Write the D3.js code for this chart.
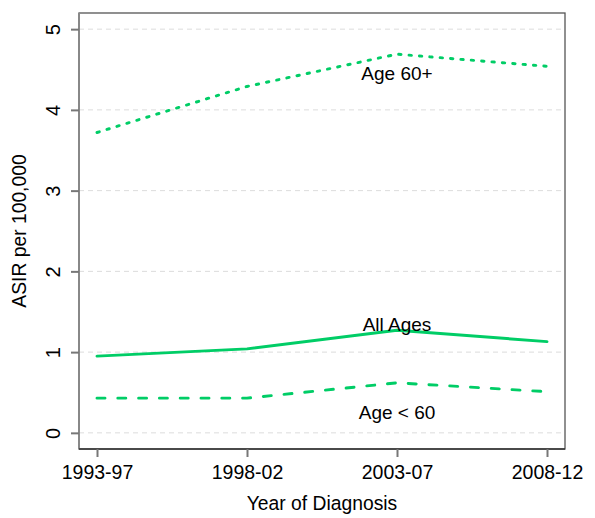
<!DOCTYPE html>
<html><head><meta charset="utf-8">
<script src="https://cdn.jsdelivr.net/npm/d3@7"></script>
<style>body{margin:0;background:#fff}svg{display:block;font-family:Arial,"Liberation Sans",sans-serif}</style>
</head><body><svg id="c" width="595" height="518"></svg>
<script>
const periods = ["1993-97","1998-02","2003-07","2008-12"];
const allAges = [0.95, 1.04, 1.27, 1.13];
const under60 = [0.43, 0.43, 0.62, 0.51];
const over60 = [3.72, 4.29, 4.69, 4.54];
const yTicks = [0,1,2,3,4,5];
const seriesNames = ["All Ages","Age < 60","Age 60+"];
const labelValues = [1.35, 0.26, 4.45];

const svg = d3.select("#c");
const L=79, R=565, T=13, B=449;
const x = d3.scaleLinear().domain([0.88,4.12]).range([L,R]);
const y = d3.scaleLinear().domain([-0.2,5.2]).range([B,T]);
const green = "#00CD66";

// grid
svg.append("g").selectAll("line").data(yTicks).join("line")
  .attr("x1",L).attr("x2",R).attr("y1",d=>y(d)).attr("y2",d=>y(d))
  .attr("stroke","#dcdcdc").attr("stroke-width",1).attr("stroke-dasharray","5,4");

const line = d3.line().x((d,i)=>x(i+1)).y(d=>y(d));
const series = [
  {v: allAges, dash: null},
  {v: under60, dash: "8,12.8"},
  {v: over60, dash: "2.4,8"}
];
series.forEach(s=>{
  const p = svg.append("path").datum(s.v).attr("d",line).attr("fill","none")
    .attr("stroke",green).attr("stroke-width",2.9).attr("stroke-linecap","round").attr("stroke-linejoin","round");
  if(s.dash) p.attr("stroke-dasharray",s.dash);
});

// labels
svg.append("g").selectAll("text").data(seriesNames).join("text")
  .attr("x",x(3)).attr("y",(d,i)=>y(labelValues[i])).attr("dy","0.35em")
  .attr("text-anchor","middle").attr("font-size",19).attr("fill","#000").text(d=>d);

// box
svg.append("rect").attr("x",L).attr("y",T).attr("width",R-L).attr("height",B-T)
  .attr("fill","none").attr("stroke","#555").attr("stroke-width",1.3);
svg.append("line").attr("x1",L).attr("x2",L).attr("y1",T).attr("y2",B).attr("stroke","#888").attr("stroke-width",2);
svg.append("line").attr("x1",L).attr("x2",R).attr("y1",B).attr("y2",B).attr("stroke","#333").attr("stroke-width",1.5);

// y axis
const yAx = svg.append("g").attr("transform",`translate(${L},0)`)
  .call(d3.axisLeft(y).tickValues(yTicks).tickSize(8).tickFormat(d3.format("d")));
yAx.select(".domain").remove();
yAx.selectAll(".tick line").attr("stroke","#777").attr("stroke-width",2);
yAx.selectAll(".tick text").attr("font-size",20).attr("fill","#000")
  .attr("x",null).attr("dy",null).attr("text-anchor","middle")
  .attr("transform","translate(-19,0) rotate(-90)");

// x axis
const xAx = svg.append("g").attr("transform",`translate(0,${B})`)
  .call(d3.axisBottom(x).tickValues([1,2,3,4]).tickSize(8).tickFormat(d=>periods[d-1]));
xAx.select(".domain").remove();
xAx.selectAll(".tick line").attr("stroke","#777").attr("stroke-width",2);
xAx.selectAll(".tick text").attr("font-size",19.5).attr("fill","#000").attr("y",30).attr("dy",null);

// titles
svg.append("text").attr("x",(L+R)/2).attr("y",510).attr("text-anchor","middle").attr("font-size",19.3).text("Year of Diagnosis");
svg.append("text").attr("transform",`translate(26,${(T+B)/2}) rotate(-90)`).attr("text-anchor","middle").attr("font-size",19.3).text("ASIR per 100,000");
</script></body></html>
